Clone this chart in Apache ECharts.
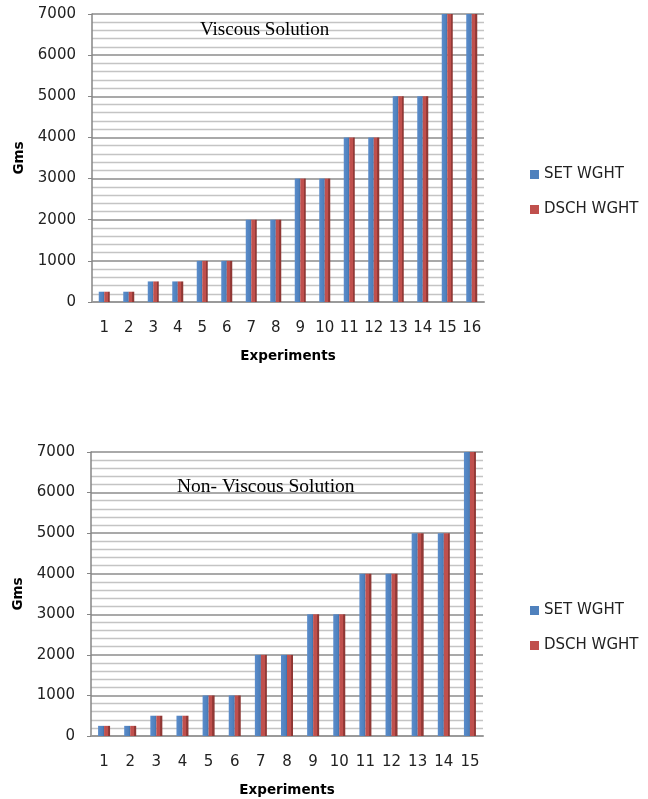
<!DOCTYPE html>
<html>
<head>
<meta charset="utf-8">
<script src="https://cdn.jsdelivr.net/npm/echarts@6/dist/echarts.min.js"></script>
<style>html,body{margin:0;padding:0;background:#fff}#c{width:648px;height:799px}</style>
</head>
<body>
<div id="c"></div>
<script>
const topCategories = ['1','2','3','4','5','6','7','8','9','10','11','12','13','14','15','16'];
const topSet  = [250,250,500,500,1000,1000,2000,2000,3000,3000,4000,4000,5000,5000,7000,7000];
const topDsch = [250,250,500,500,1000,1000,2000,2000,3000,3000,4000,4000,5000,5000,7000,7000];
const bottomCategories = ['1','2','3','4','5','6','7','8','9','10','11','12','13','14','15'];
const bottomSet  = [250,250,500,500,1000,1000,2000,2000,3000,3000,4000,4000,5000,5000,7000];
const bottomDsch = [250,250,500,500,1000,1000,2000,2000,3000,3000,4000,4000,5000,5000,7000];
const seriesNames = ['SET WGHT','DSCH WGHT'];
const titles = ['Viscous Solution','Non- Viscous Solution'];
const xName = 'Experiments';
const yName = 'Gms';

const BLUE = '#4F81BD', RED = '#C0504D';
const blueGrad = {type:'linear',x:0,y:0,x2:1,y2:0,colorStops:[{offset:0,color:'#5a8ccb'},{offset:0.75,color:'#4F81BD'},{offset:1,color:'#3f6ea6'}]};
const redGrad = {type:'linear',x:0,y:0,x2:1,y2:0,colorStops:[{offset:0,color:RED},{offset:0.62,color:RED},{offset:0.63,color:'#983b38'},{offset:1,color:'#8a3532'}]};
const wrap = (arr, g) => arr.map(v => ({value:v, itemStyle:{color:g}}));

const font = 'DejaVu Sans';
function yAxis(gi){
  return {
    gridIndex: gi, type:'value', min:0, max:7000, interval:1000,
    name: yName, nameLocation:'middle', nameRotate:90, nameGap:64,
    nameTextStyle:{fontFamily:font, fontWeight:'bold', fontSize:13.5, color:'#000'},
    axisLine:{show:true, lineStyle:{color:'#868686', width:1.5}},
    axisTick:{show:true, length:4, lineStyle:{color:'#868686'}},
    axisLabel:{fontFamily:font, fontSize:15, color:'#222', margin:16, formatter: v => String(v)},
    splitLine:{show:true, lineStyle:{color:'#8c8c8c', width:1.6}},
    minorTick:{show:false, splitNumber:5},
    minorSplitLine:{show:true, lineStyle:{color:'#c4c4c4', width:1.4}}
  };
}
function xAxis(gi, cats){
  return {
    gridIndex: gi, type:'category', data: cats,
    name: xName, nameLocation:'middle', nameGap:47,
    nameTextStyle:{fontFamily:font, fontWeight:'bold', fontSize:13.5, color:'#000'},
    axisLine:{show:true, lineStyle:{color:'#9a9a9a', width:2}},
    axisTick:{show:false},
    axisLabel:{fontFamily:font, fontSize:15, color:'#222', margin:19, interval:0}
  };
}
function bars(name, gi, data, color, grad, w){
  return {name, type:'bar', xAxisIndex:gi, yAxisIndex:gi, data: wrap(data, grad),
    itemStyle:{color}, barWidth:w, barGap:'0%', barCategoryGap:'50%'};
}
const legendStyle = {orient:'vertical', left:525, itemWidth:9, itemHeight:9, itemGap:20,
  icon:'rect', textStyle:{fontFamily:font, fontSize:15, color:'#222'}};

const chart = echarts.init(document.getElementById('c'), null, {renderer:'canvas'});
chart.setOption({
  animation:false,
  backgroundColor:'#fff',
  title:[
    {text:titles[0], left:195, top:16, textStyle:{fontFamily:'Liberation Serif', fontWeight:'normal', fontSize:19, color:'#000'}},
    {text:titles[1], left:172, top:472, textStyle:{fontFamily:'Liberation Serif', fontWeight:'normal', fontSize:19.5, color:'#000'}}
  ],
  legend:[
    Object.assign({top:162, data:seriesNames}, legendStyle),
    Object.assign({top:598, data:seriesNames.map(n=>n)}, legendStyle)
  ],
  grid:[
    {left:92, top:14, width:392, height:288},
    {left:91, top:452, width:392, height:284}
  ],
  xAxis:[xAxis(0, topCategories), xAxis(1, bottomCategories)],
  yAxis:[yAxis(0), yAxis(1)],
  series:[
    bars(seriesNames[0], 0, topSet, BLUE, blueGrad, 5.5),
    bars(seriesNames[1], 0, topDsch, RED, redGrad, 5.5),
    bars(seriesNames[0], 1, bottomSet, BLUE, blueGrad, 6),
    bars(seriesNames[1], 1, bottomDsch, RED, redGrad, 6)
  ]
});
</script>
</body>
</html>
